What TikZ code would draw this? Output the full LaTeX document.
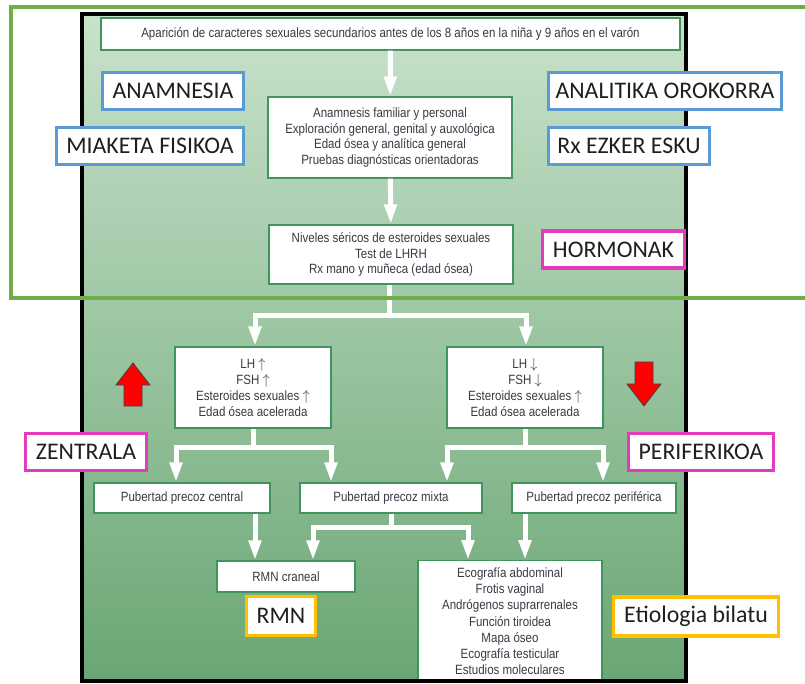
\documentclass[tikz,border=0pt]{standalone}
\usepackage{fontspec}
\usetikzlibrary{arrows.meta}
\newfontfamily\flowfont[FakeStretch=0.86]{Liberation Sans}
\newfontfamily\labelfont{Carlito}
\definecolor{bgTop}{RGB}{201,226,203}
\definecolor{bgBottom}{RGB}{106,166,117}
\definecolor{boxGreen}{RGB}{62,150,92}
\definecolor{txtGray}{RGB}{60,56,68}
\definecolor{tagBlue}{RGB}{91,155,213}
\definecolor{tagPink}{RGB}{228,58,190}
\definecolor{tagGold}{RGB}{255,192,0}
\definecolor{zoneGreen}{RGB}{112,173,71}
\begin{document}
\begin{tikzpicture}[x=1pt,y=-1pt,
  flowbox/.style={draw=boxGreen, line width=1.3pt, fill=white, inner sep=0pt,
    font=\flowfont\fontsize{13.4}{15.8}\selectfont, text=txtGray, align=center},
  conn/.style={draw=white, line width=5pt, -{Triangle[width=12pt,length=20pt]}},
  joint/.style={draw=white, line width=5pt},
  tagbox/.style={fill=white, line width=3.5pt, inner sep=0pt, minimum height=37pt,
    font=\labelfont\fontsize{23.8}{26}\selectfont, text=black!88},
  tagb/.style={tagbox, draw=tagBlue},
  tagp/.style={tagbox, draw=tagPink},
  tagg/.style={tagbox, draw=tagGold, minimum height=39pt},
  redarrow/.style={fill=red, draw=black!75, line width=0.8pt, line join=miter}]
\useasboundingbox (0,0) rectangle (805,684);

% panel background
\shade[top color=bgTop, bottom color=bgBottom] (82,14) rectangle (686,681);

\begin{scope}
\clip (82,14) rectangle (686,681);
% flowchart boxes
\node[flowbox, minimum width=579pt, minimum height=32pt] (top) at (390.5,34)
  {Aparición de caracteres sexuales secundarios antes de los 8 años en la niña y 9 años en el varón};
\node[flowbox, minimum width=244pt, minimum height=81pt] (anam) at (390,137.5)
  {Anamnesis familiar y personal\\Exploración general, genital y auxológica\\Edad ósea y analítica general\\Pruebas diagnósticas orientadoras};
\node[flowbox, minimum width=244pt, minimum height=59pt] (horm) at (391,254.5)
  {Niveles séricos de esteroides sexuales\\Test de LHRH\\Rx mano y muñeca (edad ósea)};
\node[flowbox, minimum width=156pt, minimum height=81pt] (lhup) at (253,387.5)
  {LH $\uparrow$\\FSH $\uparrow$\\Esteroides sexuales $\uparrow$\\Edad ósea acelerada};
\node[flowbox, minimum width=156pt, minimum height=81pt] (lhdown) at (525,387.5)
  {LH $\downarrow$\\FSH $\downarrow$\\Esteroides sexuales $\uparrow$\\Edad ósea acelerada};
\node[flowbox, minimum width=176pt, minimum height=30pt] (central) at (182,498)
  {Pubertad precoz central};
\node[flowbox, minimum width=182pt, minimum height=30pt] (mixta) at (391,498)
  {Pubertad precoz mixta};
\node[flowbox, minimum width=164pt, minimum height=30pt] (perif) at (594,498)
  {Pubertad precoz periférica};
\node[flowbox, minimum width=138pt, minimum height=31pt] (rmn) at (286,576.5)
  {RMN craneal};
\node[flowbox, anchor=north, minimum width=184pt, inner ysep=7pt, font=\flowfont\fontsize{13.4}{16.2}\selectfont] (exam) at (510,560)
  {Ecografía abdominal\\Frotis vaginal\\Andrógenos suprarrenales\\Función tiroidea\\Mapa óseo\\Ecografía testicular\\Estudios moleculares};

% connectors
\coordinate (j1) at (389,313);
\coordinate (j2) at (253,445);
\coordinate (j3) at (525,445);
\coordinate (j4) at (391,525);
\draw[conn] (top) -- (anam);
\draw[conn] (anam) -- (horm);
\draw[joint] ([xshift=-2pt]horm.south) -- (j1);
\draw[conn] ([yshift=-2.5pt]j1) -| ([xshift=2pt]lhup.north);
\draw[conn] ([yshift=-2.5pt]j1) -| ([xshift=1pt]lhdown.north);
\draw[joint] (lhup.south) -- (j2);
\draw[conn] ([yshift=-2.5pt]j2) -| ([xshift=-6pt]central.north);
\draw[conn] ([yshift=-2.5pt]j2) -| ([xshift=-60pt]mixta.north);
\draw[joint] (lhdown.south) -- (j3);
\draw[conn] ([yshift=-2.5pt]j3) -| ([xshift=56pt]mixta.north);
\draw[conn] ([yshift=-2.5pt]j3) -| ([xshift=9pt]perif.north);
\draw[joint] (mixta.south) -- (j4);
\draw[conn] ([yshift=-2.5pt]j4) -| ([xshift=27pt]rmn.north);
\draw[conn] ([yshift=-2.5pt]j4) -| ([xshift=-42pt]exam.north);
\draw[conn] ([xshift=73pt]central.south) -- ([xshift=-31pt]rmn.north);
\draw[conn] ([xshift=-69pt]perif.south) -- ([xshift=15pt]exam.north);
\end{scope}

% panel frame
\draw[line width=4pt] (82,14) rectangle (686,681);

% annotation tags
\node[tagb, minimum width=141pt] (tAnam) at (173,91) {ANAMNESIA};
\node[tagb, minimum width=187pt] (tMiak) at (150,146) {MIAKETA FISIKOA};
\node[tagb, minimum width=233pt] (tAnal) at (665,91) {ANALITIKA OROKORRA};
\node[tagb, minimum width=161pt] (tRx) at (629,146) {Rx EZKER ESKU};
\node[tagp, minimum width=142pt] (tHorm) at (613.5,249.5) {HORMONAK};
\node[tagp, minimum width=121pt] (tZen) at (86,452) {ZENTRALA};
\node[tagp, minimum width=145pt] (tPer) at (701,452) {PERIFERIKOA};
\node[tagg, minimum width=69pt] (tRmn) at (281,616) {RMN};
\node[tagg, minimum width=165pt] (tEtio) at (696,616.5) {Etiologia bilatu};

% red up / down arrows
\filldraw[redarrow] (133,363) -- (150,385) -- (142,385) -- (142,406) -- (124,406)
  -- (124,385) -- (116,385) -- cycle;
\filldraw[redarrow] (644,406) -- (661,384) -- (653,384) -- (653,362) -- (635,362)
  -- (635,384) -- (627,384) -- cycle;

% outlined zone around the first steps
\draw[zoneGreen, line width=3.5pt] (11,7) rectangle (830,298);
\end{tikzpicture}
\end{document}
